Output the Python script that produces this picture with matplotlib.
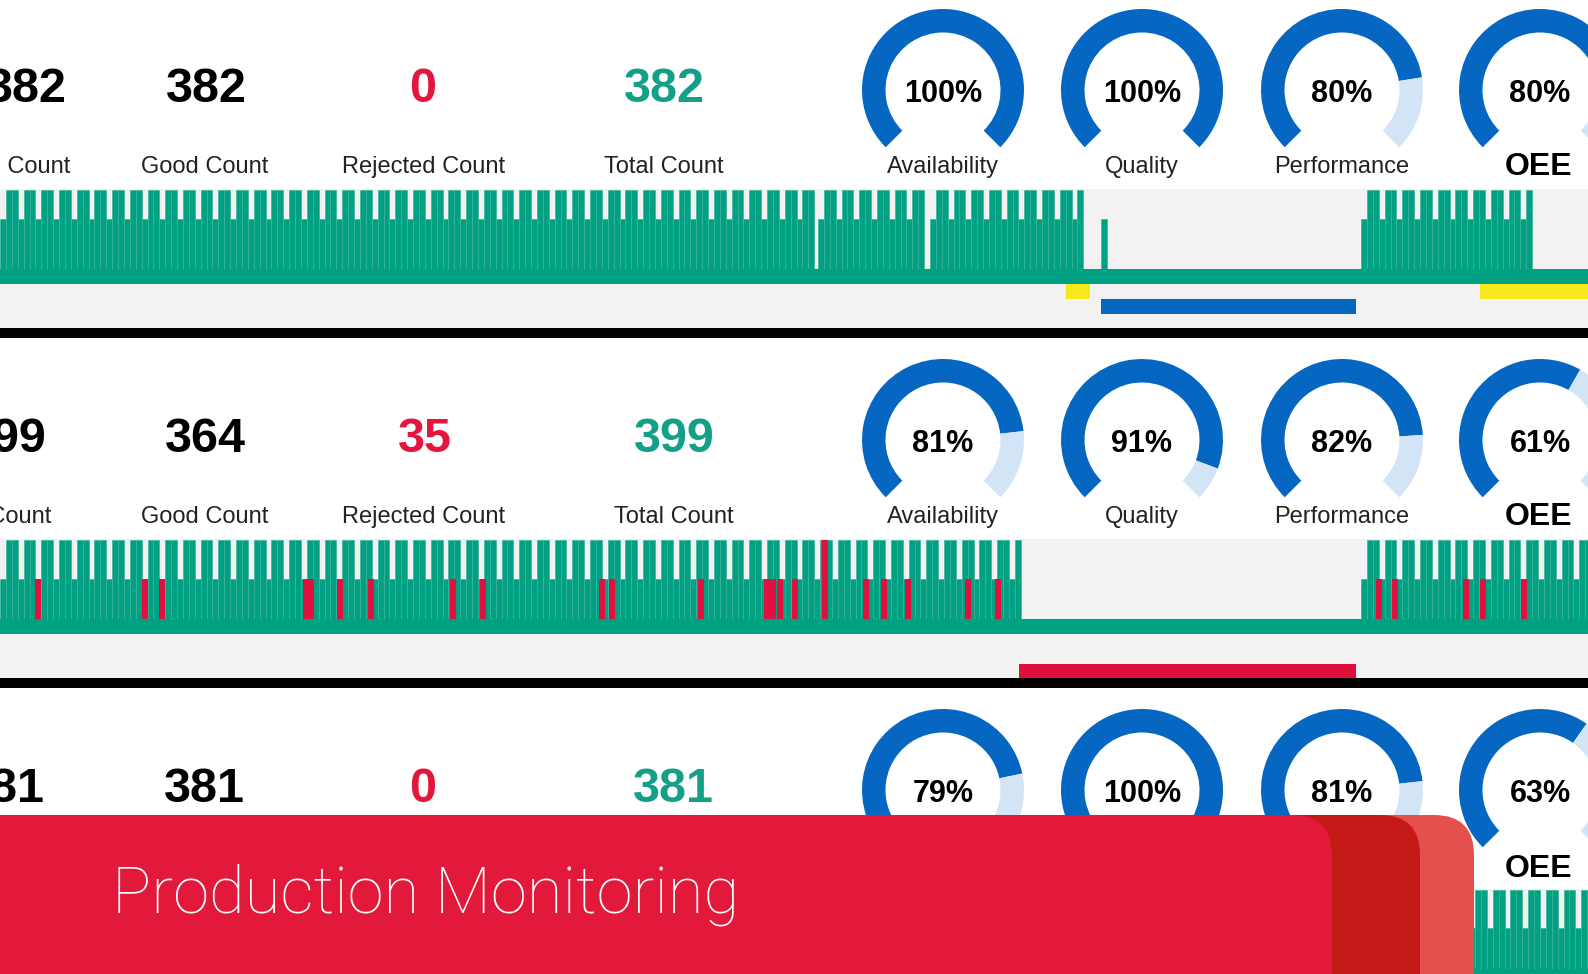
# production monitoring dashboard, three lines stacked
import numpy as np
import matplotlib
matplotlib.use('Agg')
import matplotlib.pyplot as plt
from matplotlib.patches import FancyBboxPatch
from matplotlib import font_manager

W, H = 1588, 974

# ---- data ----
first_counts = ['382', '399', '381']          # column cut by the left edge
good_counts = [382, 364, 381]
rejected_counts = [0, 35, 0]
total_counts = [382, 399, 381]
count_labels = ['Planned Count', 'Good Count', 'Rejected Count', 'Total Count']

gauge_labels = ['Availability', 'Quality', 'Performance', 'OEE']
availability = [100, 81, 79]
quality = [100, 91, 100]
performance = [80, 82, 81]
oee = [80, 61, 63]

# timeline in screen minutes (visible window 0..1588)
runs = [
    [(0, 811), (818, 923), (930, 1083), (1101, 1106), (1361, 1527)],
    [(0, 1019), (1361, 1588)],
    [(0, 1588)],
]
cycle_time = 5.9
rejects = [
    [],
    [38, 145, 162, 306, 311, 340, 371, 453, 483, 602, 612, 701, 767, 773,
     780, 795, 866, 884, 908, 968, 998, 1379, 1395, 1466, 1483, 1524],
    [],
]
rejects_long = [[], [825], []]
stops = [
    [(1066, 1090, 'changeover'), (1480, 1600, 'changeover'), (1101, 1356, 'maintenance')],
    [(1019, 1356, 'breakdown')],
    [],
]

# ---- style ----
green = '#00A082'
green_line = '#3DB59E'
num_green = '#14A088'
num_red = '#E2163E'
reject_red = '#E0103F'
blue = '#0567C2'
light_blue = '#D3E4F6'
gray_bg = '#F2F2F2'
stop_colors = {'changeover': '#F7E81E', 'maintenance': '#0567C2', 'breakdown': '#DC0F3D'}
stop_lane = {'changeover': 0, 'maintenance': 1, 'breakdown': 2}

plt.rcParams['font.family'] = ['Liberation Sans', 'DejaVu Sans']

# thin font for the banner
light_font = 'Liberation Sans'
for fam in ['Roboto', 'Lato', 'Open Sans', 'Inter']:
    ws = [f.weight for f in font_manager.fontManager.ttflist if f.name == fam]
    if any((isinstance(w, int) and w <= 300) or w in ('light', 'thin', 'extra-light') for w in ws):
        light_font = fam
        break

fig = plt.figure(figsize=(W / 100, H / 100), dpi=100)
ax = fig.add_axes([0, 0, 1, 1])
ax.set_xlim(0, W)
ax.set_ylim(H, 0)
ax.axis('off')

num_x = [[67, 206, 423, 664], [47, 205, 425, 674], [45, 204, 423, 673]]
lab_x = [[70, 205, 424, 664], [51, 205, 424, 674], None]
gauge_x = [943, 1142, 1342, 1540]
short_top = [219, 229, 228]
R = 81

for r in range(3):
    y0 = r * 350
    # counts
    vals = [first_counts[r], str(good_counts[r]), str(rejected_counts[r]), str(total_counts[r])]
    cols = ['black', 'black', num_red, num_green]
    for j in range(4):
        ax.text(num_x[r][j], y0 + 89, vals[j], ha='right' if j == 0 else 'center',
                va='center', fontsize=35, fontweight='bold', color=cols[j])
        if lab_x[r] is not None:
            ax.text(lab_x[r][j], y0 + 167, count_labels[j], ha='right' if j == 0 else 'center',
                    va='center', fontsize=17, color='#222222')

    # timeline
    top = y0 + 189
    base = y0 + 269
    band_b = y0 + 284
    bottom = min(y0 + 328, H)
    ax.barh((top + bottom) / 2, W, height=bottom - top, left=0, color=gray_bg, zorder=1)
    for s, e in runs[r]:
        xs = np.arange(s, e, cycle_time)
        idx = np.arange(len(xs))
        tops = np.where(idx % 3 == 0, y0 + short_top[r], y0 + 190)
        ax.bar(xs, base - tops, bottom=tops, width=cycle_time, align='edge',
               color=green, edgecolor=green_line, linewidth=0.5, zorder=2)
    if rejects[r]:
        ax.bar(rejects[r], base - (y0 + short_top[r]), bottom=y0 + short_top[r],
               width=cycle_time, color=reject_red, linewidth=0, zorder=3)
    if rejects_long[r]:
        ax.bar(rejects_long[r], base - (y0 + 190), bottom=y0 + 190,
               width=cycle_time, color=reject_red, linewidth=0, zorder=3)
    ax.barh((base + band_b) / 2, W, height=band_b - base, left=0, color=green, zorder=3)
    for s, e, kind in stops[r]:
        lane_top = band_b + 15 * stop_lane[kind]
        ax.barh(lane_top + 7.5, e - s, height=15, left=s, color=stop_colors[kind], zorder=3)
    if r < 2:
        ax.barh(y0 + 333, W, height=10, left=0, color='black', zorder=4)

    # gauges
    gvals = [availability[r], quality[r], performance[r], oee[r]]
    cy = y0 + 90
    for j, v in enumerate(gvals):
        cx = gauge_x[j]
        gax = fig.add_axes([(cx - R) / W, 1 - (cy + R) / H, 2 * R / W, 2 * R / H])
        gax.pie([v, 100 - v, 100 / 3], startangle=225, counterclock=False,
                colors=[blue, light_blue, 'none'],
                wedgeprops=dict(width=0.29, linewidth=0))
        gax.set_xlim(-1, 1)
        gax.set_ylim(-1, 1)
        gax.set_aspect('equal')
        gax.axis('off')
        gax.text(0, -0.05, f'{v}%', ha='center', va='center', fontsize=22,
                 fontweight='bold', color='black')
        if j == 3:
            ax.text(cx - 1, y0 + 167 if r < 2 else 869, gauge_labels[j], ha='center',
                    va='center', fontsize=23, fontweight='bold', color='black', zorder=5)
        elif r < 2:
            ax.text(cx, y0 + 167, gauge_labels[j], ha='center', va='center',
                    fontsize=17, color='#222222')

# banner over the bottom
bax = fig.add_axes([0, 0, 1, 1], zorder=5)
bax.set_xlim(0, W)
bax.set_ylim(H, 0)
bax.axis('off')
for right, col in [(1474, '#E4504E'), (1420, '#C41A17'), (1332, '#E2193A')]:
    bax.add_patch(FancyBboxPatch((-100, 815), right + 100, 400,
                                 boxstyle='round,pad=0,rounding_size=40',
                                 fc=col, ec='none'))
bax.text(112, 913, 'Production Monitoring', color='white', fontsize=47,
         fontfamily=light_font, fontweight='light', ha='left', va='baseline')

fig.savefig('out.png', dpi=100)
